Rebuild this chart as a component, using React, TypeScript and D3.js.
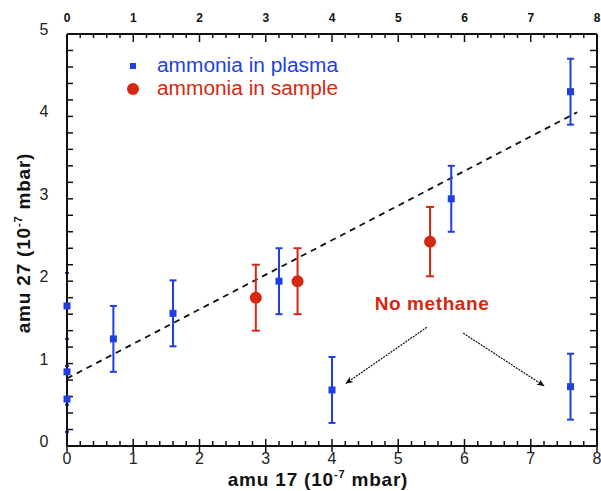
import React from "react";
import * as d3 from "d3";

const plasmaX = [0, 0, 0, 0.7, 1.6, 3.2, 4.0, 5.8, 7.6, 7.6];
const plasmaY = [1.7, 0.9, 0.57, 1.3, 1.61, 2.0, 0.68, 3.0, 4.3, 0.72];
const plasmaErr = [0.4, 0.4, 0.4, 0.4, 0.4, 0.4, 0.4, 0.4, 0.4, 0.4];
const sampleX = [2.85, 3.48, 5.48];
const sampleY = [1.8, 2.0, 2.48];
const sampleErr = [0.4, 0.4, 0.42];
const fitX = [0, 7.7];
const fitY = [0.82, 4.05];
const xTickLabels = ["0", "1", "2", "3", "4", "5", "6", "7", "8"];
const yTickLabels = ["0", "1", "2", "3", "4", "5"];
const legendLabels = ["ammonia in plasma", "ammonia in sample"];
const annotText = "No methane";
const annotPos = [5.51, 1.74];
const arrowFrom = [[5.43, 1.44], [5.98, 1.37]];
const arrowTo = [[4.21, 0.76], [7.2, 0.73]];

const BLUE = "#1f3fe0";
const RED = "#d42810";
const FONT = "'Liberation Sans', Arial, Helvetica, sans-serif";

export default function App() {
  const W = 601, H = 491;
  const L = 67, R = 597, T = 34, B = 446;
  const x = d3.scaleLinear().domain([0, 8]).range([L, R]);
  const y = d3.scaleLinear().domain([0, 5]).range([B, T]);
  const xMinor = d3.range(0, 8.0001, 0.2);
  const yMinor = d3.range(0, 5.0001, 0.2);
  const isMajor = (v: number) => Math.abs(v - Math.round(v)) < 1e-6;
  const line = d3.line<number>().x((_, i) => x(fitX[i])).y((_, i) => y(fitY[i]));

  const errBar = (cx: number, cy: number, e: number, color: string, cap: number, key: string) => {
    const c = cx === 0 ? 2 : cap;
    return (
      <g key={key} stroke={color} strokeWidth={2}>
        <line x1={x(cx)} x2={x(cx)} y1={y(cy - e)} y2={y(cy + e)} />
        <line x1={x(cx) - c} x2={x(cx) + c} y1={y(cy - e)} y2={y(cy - e)} />
        <line x1={x(cx) - c} x2={x(cx) + c} y1={y(cy + e)} y2={y(cy + e)} />
      </g>
    );
  };

  return (
    <svg width={W} height={H} style={{ position: "absolute", left: 0, top: 0, background: "#fff" }} fontFamily={FONT}>
      <defs>
        <marker id="ah" viewBox="0 0 10 10" refX="9" refY="5" markerWidth="8" markerHeight="8" orient="auto" markerUnits="userSpaceOnUse">
          <path d="M0,1 L10,5 L0,9 L3,5 Z" fill="#000" />
        </marker>
      </defs>
      <rect x={0} y={0} width={W} height={H} fill="#fff" />

      {/* fit line */}
      <path d={line(fitX) || ""} fill="none" stroke="#111" strokeWidth={1.8} strokeDasharray="6,5" />

      {/* error bars */}
      {plasmaX.map((v, i) => errBar(v, plasmaY[i], plasmaErr[i], BLUE, 3.5, "pe" + i))}
      {sampleX.map((v, i) => errBar(v, sampleY[i], sampleErr[i], RED, 4, "se" + i))}

      {/* axes frame */}
      <g stroke="#111" strokeWidth={2} fill="none">
        <line x1={L} x2={R} y1={B} y2={B} />
        <line x1={L} x2={R} y1={T} y2={T} />
        <line x1={L} x2={L} y1={T} y2={B} />
        <line x1={R} x2={R} y1={T} y2={B} />
      </g>
      <g stroke="#111" strokeWidth={1.5}>
        {xMinor.map((v, i) => (
          <g key={"xt" + i}>
            <line x1={x(v)} x2={x(v)} y1={B - (isMajor(v) ? 7 : 5)} y2={B + (isMajor(v) ? 6 : 0)} />
            <line x1={x(v)} x2={x(v)} y1={T} y2={T + (isMajor(v) ? 8 : 4)} />
          </g>
        ))}
        {yMinor.map((v, i) => (
          <g key={"yt" + i}>
            <line x1={L} x2={L + 6} y1={y(v)} y2={y(v)} />
            <line x1={R - 7} x2={R} y1={y(v)} y2={y(v)} />
          </g>
        ))}
      </g>

      {/* tick labels */}
      <g fontSize={16} fill="#222" textAnchor="middle">
        {xTickLabels.map((t, i) => (
          <text key={"xl" + i} x={x(i)} y={B + 18}>{t}</text>
        ))}
        {yTickLabels.map((t, i) => (
          <text key={"yl" + i} x={44} y={y(i) + 1}>{t}</text>
        ))}
      </g>
      <g fontSize={12} fontWeight="bold" fill="#111" textAnchor="middle">
        {xTickLabels.map((t, i) => (
          <text key={"tl" + i} x={x(i)} y={22}>{t}</text>
        ))}
      </g>

      {/* markers */}
      {plasmaX.map((v, i) => (
        <rect key={"pm" + i} x={x(v) - 3.5} y={y(plasmaY[i]) - 3.5} width={7} height={7} fill={BLUE} />
      ))}
      {sampleX.map((v, i) => (
        <circle key={"sm" + i} cx={x(v)} cy={y(sampleY[i])} r={6} fill={RED} />
      ))}

      {/* legend */}
      <rect x={130} y={63} width={6} height={6} fill={BLUE} />
      <text x={157} y={72} fontSize={20} fill={BLUE} textLength={181} lengthAdjust="spacingAndGlyphs">{legendLabels[0]}</text>
      <circle cx={133} cy={89} r={6} fill={RED} />
      <text x={157} y={95} fontSize={20} fill={RED} textLength={181} lengthAdjust="spacingAndGlyphs">{legendLabels[1]}</text>

      {/* annotation */}
      <text x={x(annotPos[0])} y={y(annotPos[1]) + 7} fontSize={19} fontWeight="bold" fill={RED} textAnchor="middle" letterSpacing={0.6}>{annotText}</text>
      {arrowFrom.map((f, i) => (
        <line key={"ar" + i} x1={x(f[0])} y1={y(f[1])} x2={x(arrowTo[i][0])} y2={y(arrowTo[i][1])} stroke="#111" strokeWidth={1.2} strokeDasharray="2,1" markerEnd="url(#ah)" />
      ))}

      {/* axis titles */}
      <text x={318} y={486} fontSize={19} fontWeight="bold" fill="#111" textAnchor="middle" letterSpacing={0.8}>
        amu 17 (10<tspan fontSize={11} dy={-8}>-7</tspan><tspan dy={8}> mbar)</tspan>
      </text>
      <text transform={`translate(30,243) rotate(-90)`} fontSize={19} fontWeight="bold" fill="#111" textAnchor="middle" letterSpacing={0.8}>
        amu 27 (10<tspan fontSize={11} dy={-8}>-7</tspan><tspan dy={8}> mbar)</tspan>
      </text>
    </svg>
  );
}
